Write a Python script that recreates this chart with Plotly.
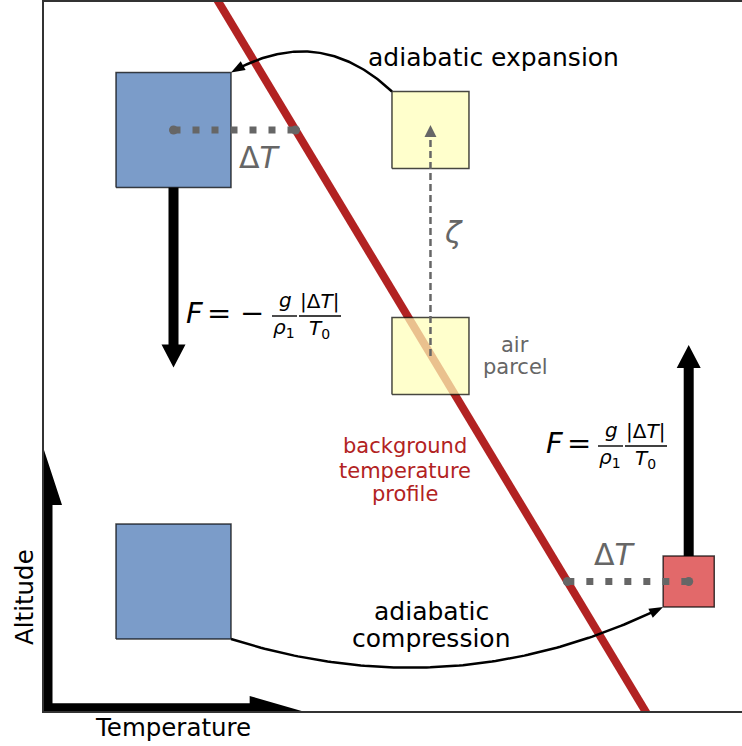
import numpy as np
import plotly.graph_objects as go

# ---------------- data (diagram coordinates: Temperature on x, Altitude on y) ----------------
PX = 70.0                      # pixels per diagram unit (both axes)
X_RANGE = [0, 698 / PX]
Y_RANGE = [0, 709 / PX]

profile_T = [2.45, 8.62]       # background temperature profile (end points)
profile_z = [10.2, -0.05]

parcel_T = [1.85, 1.85, 5.521, 5.521, 9.21]
parcel_z = [8.3, 1.85, 8.3, 5.071, 1.85]
parcel_size = [1.643, 1.643, 1.1, 1.1, 0.73]
parcel_kind = ["cold", "cold", "neutral", "neutral", "warm"]

force_from = [0, 4]            # parcels where the buoyancy force arrows start
force_len = [-2.571, 3.014]

zeta_from = 3                  # displacement arrow starts in the middle parcel
zeta_top = 8.371

expansion_path = [2, 0]        # curved arrows: (from parcel, to parcel)
compression_path = [1, 4]
expansion_bend = 0.37
compression_bend = 0.2

axis_arrow_tip = [3.681, 3.729]   # Temperature tip (x), Altitude tip (y)

labels_main = ["adiabatic expansion", "adiabatic", "compression", "Temperature", "Altitude"]
labels_profile = ["background", "temperature", "profile"]
labels_parcel = ["air", "parcel"]

# ---------------- styles ----------------
FONT = "DejaVu Sans"
GRAY = "#666666"
RED = "#b22222"
FILL = {"cold": "#7b9cc9", "neutral": "rgba(255,255,185,0.72)", "warm": "#e2696a"}
EDGE = "rgba(0,0,0,0.72)"

fig = go.Figure()


def profile_T_at(z):
    return float(np.interp(z, profile_z[::-1], profile_T[::-1]))


def add_poly(xs, ys, color):
    fig.add_trace(go.Scatter(x=list(xs) + [xs[0]], y=list(ys) + [ys[0]], mode="lines",
                             fill="toself", fillcolor=color, line=dict(width=0, color=color),
                             hoverinfo="skip", showlegend=False))


def arrow_poly(p0, p1, shaft_px, head_w_px, head_len_px, side=0):
    p0 = np.array(p0, float); p1 = np.array(p1, float)
    d = p1 - p0; u = d / np.hypot(*d); n = np.array([-u[1], u[0]])
    base = p1 - u * head_len_px / PX
    if side == 0:
        sw = shaft_px / 2 / PX; hw = head_w_px / 2 / PX
        pts = [p0 + n * sw, base + n * sw, base + n * hw, p1, base - n * hw, base - n * sw, p0 - n * sw]
    else:
        sw = shaft_px / PX * side; hw = head_w_px / PX * side
        pts = [p0, p1, base + n * hw, base + n * sw, p0 + n * sw]
    pts = np.array(pts)
    return pts[:, 0], pts[:, 1]


def head_poly(tip, u, head_w_px, head_len_px):
    tip = np.array(tip, float); u = np.array(u, float)
    n = np.array([-u[1], u[0]])
    base = tip - u * head_len_px / PX
    hw = head_w_px / 2 / PX
    pts = np.array([base + n * hw, tip, base - n * hw])
    return pts[:, 0], pts[:, 1]


def corner(i, sx, sy):
    h = parcel_size[i] / 2
    return (parcel_T[i] + sx * h, parcel_z[i] + sy * h)


# background profile
fig.add_trace(go.Scatter(x=profile_T, y=profile_z, mode="lines", line=dict(color=RED, width=8),
                         hoverinfo="skip", showlegend=False))

# parcels
for T, z, s, k in zip(parcel_T, parcel_z, parcel_size, parcel_kind):
    h = s / 2
    fig.add_trace(go.Scatter(x=[T - h, T + h, T + h, T - h, T - h], y=[z - h, z - h, z + h, z + h, z - h],
                             mode="lines", fill="toself", fillcolor=FILL[k],
                             line=dict(color=EDGE, width=1.5), hoverinfo="skip", showlegend=False))

# temperature differences (dotted)
for i, right in [(0, False), (4, True)]:
    z = parcel_z[i]
    xs = [profile_T_at(z), parcel_T[i]] if right else [parcel_T[i], profile_T_at(z)]
    fig.add_trace(go.Scatter(x=xs, y=[z, z], mode="lines+markers",
                             line=dict(color=GRAY, width=7, dash="7px,12px"),
                             marker=dict(color=GRAY, size=9, symbol="circle"),
                             hoverinfo="skip", showlegend=False))

# buoyancy force arrows
for i, L in zip(force_from, force_len):
    h = parcel_size[i] / 2 * np.sign(L)
    start = (parcel_T[i], parcel_z[i] + h)
    end = (parcel_T[i], parcel_z[i] + h + L)
    add_poly(*arrow_poly(start, end, 10, 24, 23), "black")

# zeta displacement arrow (dashed)
zx = parcel_T[zeta_from]
head_len = 12 / PX
fig.add_trace(go.Scatter(x=[zx, zx], y=[parcel_z[zeta_from], zeta_top - head_len], mode="lines",
                         line=dict(color=GRAY, width=2.5, dash="7px,4px"), hoverinfo="skip", showlegend=False))
add_poly(*head_poly((zx, zeta_top), (0, 1), 12, 12), GRAY)


# curved adiabatic arrows
def curved_arrow(p0, p2, rad):
    p0 = np.array(p0); p2 = np.array(p2)
    mid = (p0 + p2) / 2; d = p2 - p0
    c = mid + rad * np.array([d[1], -d[0]])
    t = np.linspace(0, 1, 120)[:, None]
    b = (1 - t) ** 2 * p0 + 2 * t * (1 - t) * c + t ** 2 * p2
    u = (p2 - c) / np.hypot(*(p2 - c))
    keep = ((b - p2) @ u) <= -10 / PX
    bb = np.vstack([b[keep], p2 - u * 10 / PX])
    fig.add_trace(go.Scatter(x=bb[:, 0], y=bb[:, 1], mode="lines", line=dict(color="black", width=2.5),
                             hoverinfo="skip", showlegend=False))
    add_poly(*head_poly(p2, u, 10, 14), "black")


curved_arrow(corner(expansion_path[0], -1, 1), corner(expansion_path[1], 1, 1), expansion_bend)
curved_arrow(corner(compression_path[0], 1, -1), corner(compression_path[1], -1, -1), compression_bend)

# axis half-arrows
add_poly(*arrow_poly((0, 0), (0, axis_arrow_tip[1]), 8.5, 18, 55, side=-1), "black")
add_poly(*arrow_poly((0, 0), (axis_arrow_tip[0], 0), 7.7, 15, 52, side=1), "black")

# ---------------- text ----------------
ann = []


def txt(x, y, s, size, color="black", angle=0, xs=0, ys=0, xref="x", yref="y"):
    ann.append(dict(x=x, y=y, text=s, showarrow=False, xanchor="center", yanchor="middle",
                    xref=xref, yref=yref,
                    xshift=xs, yshift=ys, textangle=angle, font=dict(family=FONT, size=size, color=color)))


def py(p):
    return (711 - p) / PX


def pxx(p):
    return (p - 44) / PX


txt(pxx(493), py(57.4), labels_main[0], 25)
txt(pxx(431), py(611.5), labels_main[1], 25)
txt(pxx(431), py(638), labels_main[2], 25)
txt(pxx(173), (711 - 727.2) / 709, labels_main[3], 24.5, yref="paper")
txt((24.5 - 44) / 698, py(597.5), labels_main[4], 24.5, angle=-90, xref="paper")
for s, yy in zip(labels_profile, [445.7, 470.7, 494]):
    txt(pxx(404.7), py(yy), s, 21, RED)
for s, yy in zip(labels_parcel, [344.7, 367]):
    txt(pxx(515), py(yy), s, 21, GRAY)
txt(pxx(453.5), py(232.6), "<i>ζ</i>", 30, GRAY)
txt(pxx(260), py(157), "Δ<i>T</i>", 30, GRAY)
txt(pxx(615), py(554), "Δ<i>T</i>", 30, GRAY)

shapes = []


def formula(ax, ay, negative):
    o = 34 if negative else 0
    txt(ax, ay, "<i>F</i>", 29, xs=7, ys=3)
    txt(ax, ay, "=", 29, xs=31, ys=3)
    if negative:
        txt(ax, ay, "−", 29, xs=64, ys=3)
    txt(ax, ay, "<i>g</i>", 20, xs=63 + o, ys=16)
    txt(ax, ay, "|Δ<i>T</i>|", 20, xs=97 + o, ys=15)
    txt(ax, ay, "<i>ρ</i><sub>1</sub>", 20, xs=62 + o, ys=-12)
    txt(ax, ay, "<i>T</i><sub>0</sub>", 20, xs=97 + o, ys=-13)
    for a, b in [(50, 75), (77, 119)]:
        shapes.append(dict(type="line", xref="x", yref="y", xsizemode="pixel", ysizemode="pixel",
                           xanchor=ax, yanchor=ay, x0=a + o, x1=b + o, y0=0, y1=0,
                           line=dict(color="black", width=1.4)))


formula(pxx(188), py(316), True)
formula(pxx(548), py(446), False)

fig.update_layout(
    width=742, height=746, margin=dict(l=44, r=0, t=2, b=35),
    paper_bgcolor="white", plot_bgcolor="white",
    xaxis=dict(range=X_RANGE, showgrid=False, zeroline=False, showticklabels=False, ticks="",
               showline=True, linecolor="#333333", linewidth=1.5, mirror=True, fixedrange=True),
    yaxis=dict(range=Y_RANGE, showgrid=False, zeroline=False, showticklabels=False, ticks="",
               showline=True, linecolor="#333333", linewidth=1.5, mirror=False, fixedrange=True),
    annotations=ann, shapes=shapes, showlegend=False,
)
fig.write_html("out.html")
